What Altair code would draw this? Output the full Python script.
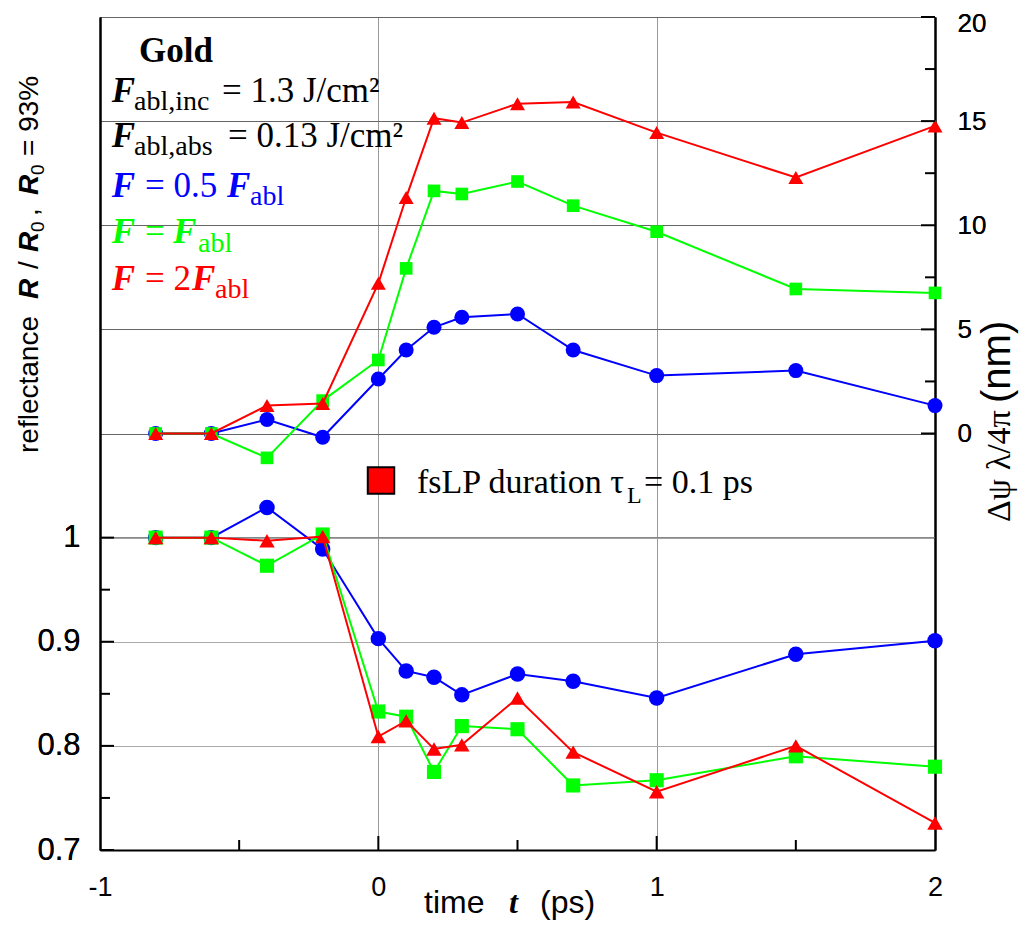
import altair as alt
import pandas as pd

# ---------------- data ----------------
TIME = [-0.8, -0.6, -0.4, -0.2, 0.0, 0.1, 0.2, 0.3, 0.5, 0.7, 1.0, 1.5, 2.0]

# reflectance R/R0 (left axis)
R_BLUE = [1.0, 1.0, 1.029, 0.989, 0.903, 0.872, 0.866, 0.849, 0.869, 0.862, 0.846, 0.888, 0.901]
R_GREEN = [1.0, 1.0, 0.973, 1.003, 0.833, 0.828, 0.775, 0.819, 0.816, 0.762, 0.767, 0.790, 0.780]
R_RED = [1.0, 1.0, 0.997, 1.001, 0.809, 0.824, 0.797, 0.801, 0.846, 0.794, 0.756, 0.800, 0.726]

# phase  dpsi*lambda/4pi in nm (right axis)
P_BLUE = [0.0, 0.0, 0.67, -0.18, 2.62, 4.01, 5.10, 5.58, 5.74, 4.01, 2.78, 3.02, 1.34]
P_GREEN = [0.0, 0.0, -1.17, 1.58, 3.53, 7.93, 11.65, 11.50, 12.10, 10.94, 9.69, 6.94, 6.75]
P_RED = [0.0, 0.0, 1.34, 1.44, 7.21, 11.33, 15.14, 14.93, 15.84, 15.92, 14.45, 12.29, 14.77]

# axis ticks / labels
X_LABELS = [-1, 0, 1, 2]
X_MAJOR = [0, 1]
X_MINOR = [-0.5, 0.5, 1.5]
L_LABELS = [0.7, 0.8, 0.9, 1.0]
L_MINOR = [0.75, 0.85, 0.95]
L_REF = [1.0]
R_LABELS = [0, 5, 10, 15, 20]
R_MINOR = [2.5, 7.5, 12.5, 17.5]

BLUE, GREEN, RED = "#0000ff", "#00ff00", "#ff0000"
SANS, SERIF = "Liberation Sans", "Liberation Serif"
OX, OY = 100, 17          # page position of the plot origin
W, H = 835, 833

xs = alt.Scale(domain=[-1, 2], nice=False, zero=False)
ls = alt.Scale(domain=[0.7, 1.5], nice=False, zero=False)
rs = alt.Scale(domain=[-20, 20], nice=False, zero=False)

x_axis = alt.Axis(values=X_LABELS, title=None, ticks=False, orient="bottom", labelFontSize=27,
                  labelFont=SANS, labelColor="black", labelPadding=24, labelFlush=False,
                  domainColor="black", domainWidth=2, grid=True, gridColor="#999999",
                  gridWidth=1, labelExpr="(datum.value < 0 ? '-' : '') + abs(datum.value)")
l_axis = alt.Axis(values=L_LABELS, title=None, ticks=False, orient="left", labelFontSize=31,
                  labelFont=SANS, labelColor="black", labelPadding=20, domainColor="black",
                  domainWidth=2, grid=True, gridColor="#aaaaaa", gridWidth=1, format=".1~f")
r_axis = alt.Axis(values=R_LABELS, title=None, ticks=False, orient="right", labelFontSize=26,
                  labelFont=SANS, labelColor="black", labelPadding=22, domainColor="black",
                  domainWidth=2, grid=True, gridColor="#666666", gridWidth=1, format="d",
                  labelOffset={"condition": {"test": "datum.value === 20", "value": 6},
                               "value": 0})


def X(field="t"):
    return alt.X(f"{field}:Q", scale=xs, axis=x_axis)


def series(times, vals, col, scale, shape, size, y_ax=None):
    df = pd.DataFrame({"t": times, "v": vals})
    enc = dict(x=X(), y=alt.Y("v:Q", scale=scale, axis=y_ax))
    line = alt.Chart(df).mark_line(color=col, strokeWidth=2).encode(**enc)
    pts = alt.Chart(df).mark_point(shape=shape, filled=True, size=size, color=col,
                                   opacity=1).encode(**enc)
    return line, pts


ONE = pd.DataFrame({"k": [0]})


def run(s, px, py, size, font=SERIF, weight="normal", style="normal", color="black", angle=0):
    return alt.Chart(ONE).mark_text(text=s, font=font, fontSize=size, fontWeight=weight,
                                    fontStyle=style, color=color, angle=angle, align="left",
                                    baseline="alphabetic").encode(
        x=alt.value(px - OX), y=alt.value(py - OY))


def hticks(vals, scale, x0, x1, color="black", width=2):
    df = pd.DataFrame({"v": vals})
    return alt.Chart(df).mark_rule(color=color, strokeWidth=width).encode(
        y=alt.Y("v:Q", scale=scale, axis=None), x=alt.value(x0), x2=alt.value(x1))


def vticks(vals, length):
    df = pd.DataFrame({"t": vals})
    return alt.Chart(df).mark_rule(color="black", strokeWidth=2).encode(
        x=X(), y=alt.value(H), y2=alt.value(H - length))


# ---- lower panel (reflectance, left axis)
lb, pb = series(TIME, R_BLUE, BLUE, ls, "circle", 240, l_axis)
lg, pg = series(TIME, R_GREEN, GREEN, ls, "square", 200)
lr, pr = series(TIME, R_RED, RED, ls, "triangle-up", 240)

# ---- upper panel (phase, right axis)
ub, qb = series(TIME, P_BLUE, BLUE, rs, "circle", 225, r_axis)
ug, qg = series(TIME, P_GREEN, GREEN, rs, "square", 160)
ur, qr = series(TIME, P_RED, RED, rs, "triangle-up", 225)

BI = dict(weight="bold", style="italic")
texts = [
    run("Gold", 139, 61.7, 35, weight="bold"),
    run("F", 111.7, 101.7, 35, **BI),
    run("abl,inc", 134, 109.5, 28),
    run("= 1.3 J/cm\u00b2", 222, 101.7, 35),
    run("F", 111.7, 147, 35, **BI),
    run("abl,abs", 134, 155, 28),
    run("= 0.13 J/cm\u00b2", 228, 147, 35),
    run("F", 111.7, 196.7, 35, color=BLUE, **BI),
    run("= 0.5", 145, 196.7, 35, color=BLUE),
    run("F", 227, 196.7, 35, color=BLUE, **BI),
    run("abl", 250, 205, 28, color=BLUE),
    run("F", 111.7, 243.3, 35, color=GREEN, **BI),
    run("=", 145, 243.3, 35, color=GREEN),
    run("F", 173, 243.3, 35, color=GREEN, **BI),
    run("abl", 198, 251.5, 28, color=GREEN),
    run("F", 111.7, 290, 35, color=RED, **BI),
    run("= 2", 145, 290, 35, color=RED),
    run("F", 192, 290, 35, color=RED, **BI),
    run("abl", 215, 298, 28, color=RED),
    # pulse duration note
    run("fsLP duration \u03c4", 417, 493, 34),
    run("L", 627, 503, 24),
    run("= 0.1 ps", 644, 493, 34),
    # x title
    run("time", 424, 913, 32, font=SANS),
    run("t", 509, 913, 32, **BI),
    run("(ps)", 540, 913, 32, font=SANS),
    # left title (rotated)
    run("reflectance", 38, 453, 28, font=SANS, angle=270),
    run("R", 38, 299, 28, font=SANS, angle=270, **BI),
    run("/", 38, 269, 28, font=SANS, angle=270),
    run("R", 38, 252, 28, font=SANS, angle=270, **BI),
    run("0", 44, 232, 19, font=SANS, angle=270),
    run(",", 38, 216, 28, font=SANS, angle=270),
    run("R", 38, 195, 28, font=SANS, angle=270, **BI),
    run("0", 44, 175, 19, font=SANS, angle=270),
    run("= 93%", 38, 156, 28, font=SANS, angle=270),
    # right title (rotated)
    run("\u0394\u03c8 \u03bb/4\u03c0", 1010, 522, 34, angle=270),
    run("(nm)", 1010, 403, 40, font=SANS, angle=270),
]

marker = alt.Chart(ONE).mark_point(shape="square", filled=True, size=700, fill=RED,
                                   stroke="black", strokeWidth=2, opacity=1).encode(
    x=alt.value(381 - OX), y=alt.value(480.5 - OY))

chart = alt.layer(
    lb, ub,
    hticks(L_REF, ls, 0, W, color="#777777", width=1),
    pb, lg, pg, lr, pr,
    qb, ug, qg, ur, qr,
    hticks(L_LABELS, ls, 0, 14), hticks(L_MINOR, ls, 0, 10),
    hticks(R_LABELS, rs, W, W - 14), hticks(R_MINOR, rs, W, W - 10),
    vticks(X_MAJOR, 14), vticks(X_MINOR, 10),
    marker, *texts,
).resolve_scale(y="independent").properties(
    width=W, height=H,
    autosize=alt.AutoSizeParams(type="none"),
    padding={"left": OX - 8, "top": OY - 8, "right": 84, "bottom": 72},
).configure_view(stroke=None)

chart.save("out.html", embed_options={"renderer": "svg", "actions": False})
